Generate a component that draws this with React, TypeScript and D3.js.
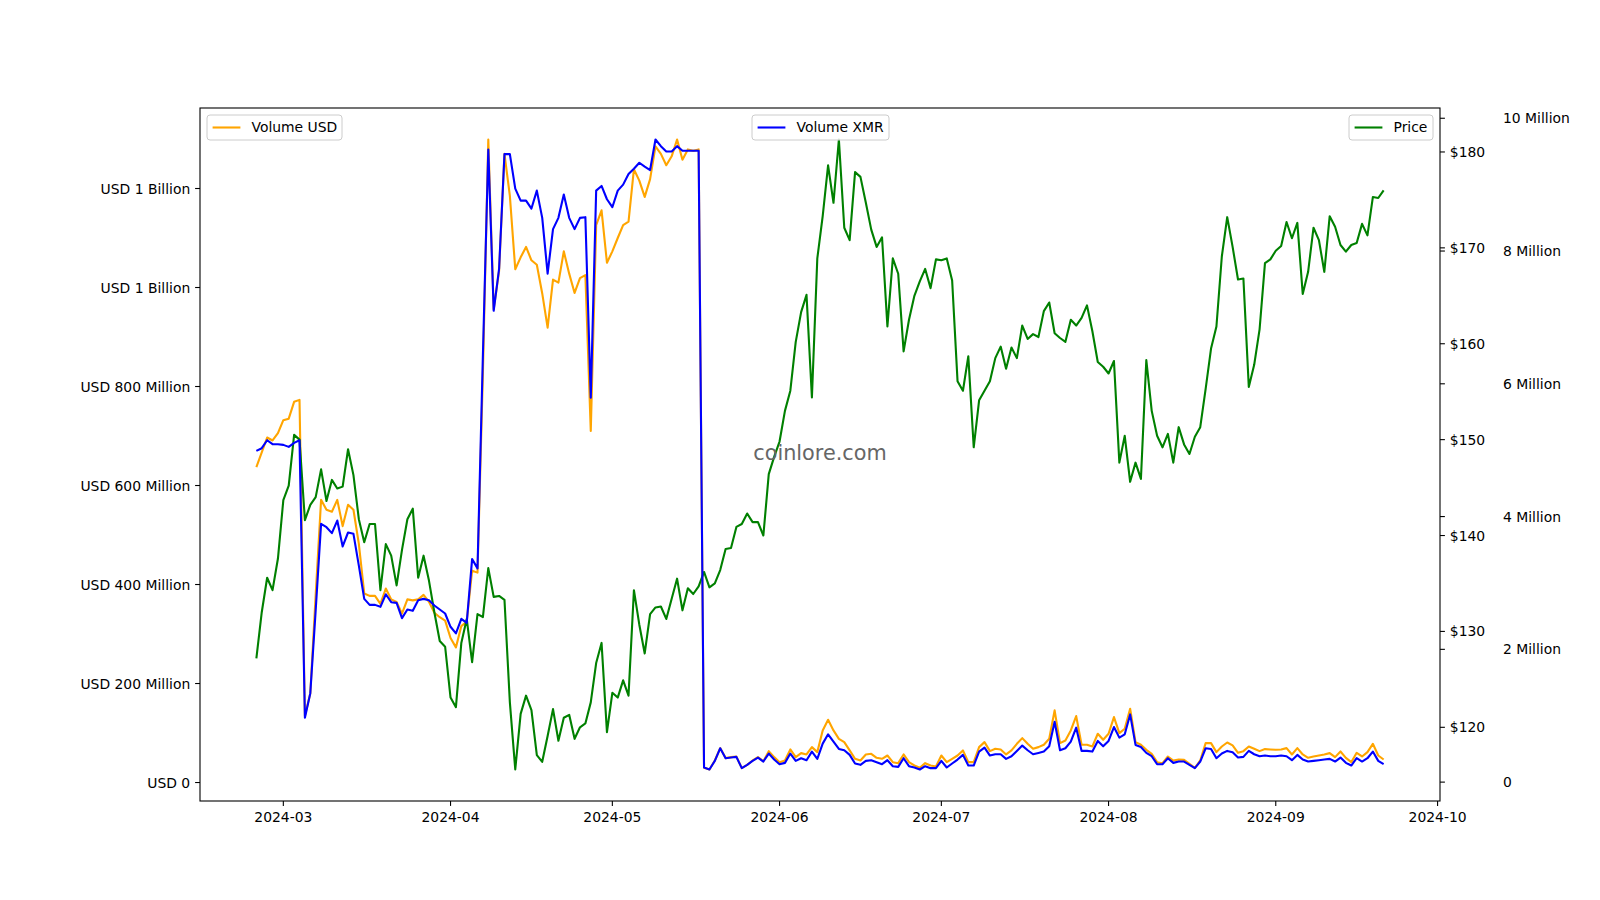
import React from "react";
import * as d3 from "d3";

// daily points, 2024-02-25 .. 2024-09-21
const startDate = new Date(2024, 1, 25);

const priceValues = [
  127.2, 132.0, 135.6, 134.3, 137.6, 143.7, 145.2, 150.5, 150.0, 141.6,
  143.2, 144.0, 146.9, 143.6, 145.8, 144.9, 145.1, 149.0, 146.3, 141.7,
  139.3, 141.2, 141.2, 134.3, 139.1, 137.9, 134.8, 138.5, 141.7, 142.8,
  135.6, 137.9, 135.3, 132.0, 129.0, 128.4, 123.1, 122.1, 128.8, 131.3,
  126.8, 131.8, 131.5, 136.6, 133.6, 133.7, 133.3, 122.6, 115.6, 121.4,
  123.3, 121.8, 117.1, 116.4, 119.1, 121.9, 118.6, 121.0, 121.3, 118.8,
  120.0, 120.4, 122.6, 126.7, 128.8, 119.5, 123.6, 123.1, 124.9, 123.3,
  134.3, 130.7, 127.7, 131.8, 132.5, 132.6, 131.3, 133.4, 135.5, 132.2,
  134.5, 133.9, 134.7, 136.2, 134.6, 135.0, 136.4, 138.6, 138.7, 140.9,
  141.2, 142.3, 141.4, 141.4, 140.0, 146.4, 148.2, 149.8, 153.0, 155.1,
  160.2, 163.3, 165.1, 154.4, 168.9, 173.3, 178.6, 174.7, 181.3, 172.1,
  170.8, 177.9, 177.4, 174.7, 171.9, 170.1, 171.1, 161.8, 168.9, 167.3,
  159.2, 162.5, 165.0, 166.5, 167.8, 165.8, 168.8, 168.7, 168.9, 166.6,
  156.1, 155.1, 158.7, 149.2, 154.1, 155.1, 156.1, 158.5, 159.7, 157.4,
  159.6, 158.5, 161.9, 160.5, 161.0, 160.7, 163.4, 164.3, 161.1, 160.6,
  160.2, 162.5, 161.9, 162.7, 164.0, 161.3, 158.1, 157.6, 156.9, 158.2,
  147.6, 150.4, 145.6, 147.6, 145.9, 158.3, 153.0, 150.4, 149.2, 150.6,
  147.6, 151.3, 149.5, 148.5, 150.3, 151.3, 155.3, 159.5, 161.8, 169.1,
  173.2, 170.1, 166.7, 166.8, 155.5, 157.8, 161.5, 168.4, 168.8, 169.7,
  170.2, 172.7, 171.0, 172.6, 165.2, 167.5, 172.1, 170.8, 167.5, 173.3,
  172.2, 170.3, 169.6, 170.3, 170.5, 172.5, 171.3, 175.3, 175.2, 176.0,
];

// millions of USD
const volumeUsd = [
  637, 667, 697, 691, 706, 732, 735, 769, 773, 135,
  180, 379, 571, 551, 547, 571, 518, 561, 551, 482,
  382, 377, 377, 361, 392, 370, 365, 341, 370, 368,
  370, 379, 365, 343, 334, 327, 292, 273, 316, 325,
  428, 424, 826, 1299, 956, 1033, 1270, 1185, 1037, 1061,
  1082, 1055, 1046, 988, 919, 1016, 1010, 1073, 1028, 989,
  1019, 1025, 710, 1126, 1156, 1050, 1073, 1100, 1126, 1133,
  1239, 1216, 1183, 1219, 1285, 1270, 1247, 1265, 1299, 1258,
  1279, 1276, 1279, 29.7, 26.3, 44.5, 69.5, 49.3, 51.3, 52.6,
  29.0, 35.7, 44.5, 51.3, 43.2, 63.4, 51.3, 41.1, 44.5, 66.8,
  51.3, 59.4, 56.7, 71.5, 61.4, 105.2, 126.8, 105.2, 88.3, 81.6,
  64.8, 47.9, 44.5, 56.7, 58.0, 49.9, 47.9, 54.6, 41.1, 39.1,
  56.7, 41.1, 34.4, 29.7, 39.1, 34.4, 32.4, 54.6, 41.1, 47.9,
  54.6, 64.8, 41.1, 41.1, 71.5, 81.6, 63.4, 68.1, 66.8, 56.7,
  64.8, 78.2, 89.7, 78.2, 68.1, 71.5, 76.2, 88.3, 145.7, 79.6,
  85.0, 105.2, 134.2, 76.2, 76.2, 72.8, 98.5, 86.3, 98.5, 132.2,
  99.8, 108.6, 149.0, 81.6, 76.2, 66.1, 58.0, 41.1, 39.1, 52.6,
  44.5, 46.5, 45.8, 37.8, 29.7, 44.5, 79.6, 79.6, 61.4, 72.8,
  80.9, 74.9, 60.0, 63.4, 72.8, 68.1, 63.4, 67.5, 66.8, 66.1,
  66.8, 69.5, 56.7, 69.5, 56.7, 49.9, 52.6, 54.6, 56.7, 59.4,
  51.3, 62.7, 49.9, 41.1, 60.0, 52.6, 61.4, 78.2, 54.6, 46.5,
];

// millions of XMR
const volumeXmr = [
  4.99, 5.03, 5.15, 5.09, 5.09, 5.08, 5.05, 5.11, 5.15, 0.97,
  1.34, 2.59, 3.89, 3.84, 3.75, 3.94, 3.55, 3.76, 3.74, 3.26,
  2.76, 2.67, 2.67, 2.64, 2.83, 2.71, 2.70, 2.47, 2.60, 2.58,
  2.74, 2.76, 2.74, 2.66, 2.60, 2.54, 2.34, 2.24, 2.46, 2.40,
  3.36, 3.22, 6.43, 9.53, 7.10, 7.73, 9.46, 9.46, 8.94, 8.76,
  8.76, 8.64, 8.91, 8.50, 7.66, 8.33, 8.50, 8.85, 8.50, 8.33,
  8.50, 8.51, 5.79, 8.91, 8.98, 8.78, 8.66, 8.91, 9.00, 9.16,
  9.24, 9.33, 9.27, 9.22, 9.68, 9.58, 9.50, 9.50, 9.58, 9.51,
  9.51, 9.51, 9.51, 0.22, 0.19, 0.32, 0.51, 0.36, 0.37, 0.38,
  0.21, 0.26, 0.32, 0.37, 0.31, 0.43, 0.34, 0.27, 0.29, 0.43,
  0.32, 0.36, 0.33, 0.46, 0.35, 0.58, 0.72, 0.61, 0.50, 0.48,
  0.41, 0.28, 0.26, 0.32, 0.33, 0.30, 0.27, 0.33, 0.24, 0.23,
  0.36, 0.24, 0.22, 0.19, 0.24, 0.21, 0.21, 0.32, 0.22, 0.28,
  0.34, 0.41, 0.25, 0.25, 0.46, 0.52, 0.40, 0.42, 0.42, 0.35,
  0.39, 0.47, 0.55, 0.48, 0.42, 0.44, 0.46, 0.54, 0.91, 0.48,
  0.51, 0.61, 0.82, 0.47, 0.47, 0.46, 0.62, 0.54, 0.62, 0.83,
  0.67, 0.72, 1.02, 0.56, 0.53, 0.44, 0.39, 0.27, 0.27, 0.36,
  0.29, 0.31, 0.31, 0.26, 0.21, 0.31, 0.51, 0.50, 0.36, 0.43,
  0.47, 0.45, 0.37, 0.38, 0.47, 0.42, 0.39, 0.40, 0.39, 0.39,
  0.40, 0.39, 0.33, 0.41, 0.34, 0.31, 0.32, 0.33, 0.34, 0.35,
  0.31, 0.37, 0.29, 0.25, 0.36, 0.31, 0.36, 0.46, 0.32, 0.27,
];

const dates = priceValues.map((_, i) => d3.timeDay.offset(startDate, i));

const usdTicks = [0, 200, 400, 600, 800, 1000, 1200];
const usdTickLabels = [
  "USD 0", "USD 200 Million", "USD 400 Million", "USD 600 Million",
  "USD 800 Million", "USD 1 Billion", "USD 1 Billion",
];
const priceTicks = [120, 130, 140, 150, 160, 170, 180];
const xmrTicks = [0, 2, 4, 6, 8, 10];
const xmrTickLabels = ["0", "2 Million", "4 Million", "6 Million", "8 Million", "10 Million"];
const monthTicks = [2, 3, 4, 5, 6, 7, 8, 9].map((m) => new Date(2024, m, 1));

const W = 1600;
const H = 900;
const left = 200, right = 1440, top = 108, bottom = 801;
const font = "DejaVu Sans, sans-serif";
const fs = 13.9;
const tickLen = 4.9;

// matplotlib style 5% margins
const padded = (vals: number[]): [number, number] => {
  const [a, b] = d3.extent(vals) as [number, number];
  const m = (b - a) * 0.05;
  return [a - m, b + m];
};

const Legend = ({ x, label, color, width }) => (
  <g>
    <rect x={x} y={115} width={width} height={25} rx={3} fill="white" fillOpacity={0.8} stroke="#cccccc" strokeWidth={1} />
    <line x1={x + 5.6} x2={x + 33.4} y1={127.5} y2={127.5} stroke={color} strokeWidth={2.1} />
    <text x={x + 44.5} y={132} fontSize={fs} fontFamily={font} fill="black">{label}</text>
  </g>
);

export default function App() {
  const times = dates.map((d) => +d);
  const xScale = d3.scaleTime().domain(padded(times).map((t) => new Date(t))).range([left, right]);
  const yUsd = d3.scaleLinear().domain(padded(volumeUsd)).range([bottom, top]);
  const yPrice = d3.scaleLinear().domain(padded(priceValues)).range([bottom, top]);
  const yXmr = d3.scaleLinear().domain(padded(volumeXmr)).range([bottom, top]);

  const mk = (scale) =>
    d3.line<number>().x((_, i) => xScale(dates[i])).y((d) => scale(d));

  return (
    <svg width={W} height={H} style={{ position: "absolute", left: 0, top: 0, background: "white" }}>
      <rect width={W} height={H} fill="white" />

      <path d={mk(yUsd)(volumeUsd) ?? ""} fill="none" stroke="orange" strokeWidth={2.1} strokeLinejoin="round" />
      <path d={mk(yPrice)(priceValues) ?? ""} fill="none" stroke="green" strokeWidth={2.1} strokeLinejoin="round" />
      <path d={mk(yXmr)(volumeXmr) ?? ""} fill="none" stroke="blue" strokeWidth={2.1} strokeLinejoin="round" />

      <text x={(left + right) / 2} y={460} textAnchor="middle" fontSize={20.8} fontFamily={font} fill="#666666">coinlore.com</text>

      {/* spines */}
      <rect x={left} y={top} width={right - left} height={bottom - top} fill="none" stroke="black" strokeWidth={1.1} />

      {/* left axis */}
      {usdTicks.map((t, i) => (
        <g key={"u" + t}>
          <line x1={left - tickLen} x2={left} y1={yUsd(t)} y2={yUsd(t)} stroke="black" strokeWidth={1.1} />
          <text x={left - tickLen - 4.9} y={yUsd(t)} dy="0.365em" textAnchor="end" fontSize={fs} fontFamily={font}>{usdTickLabels[i]}</text>
        </g>
      ))}

      {/* price axis */}
      {priceTicks.map((t) => (
        <g key={"p" + t}>
          <line x1={right} x2={right + tickLen} y1={yPrice(t)} y2={yPrice(t)} stroke="black" strokeWidth={1.1} />
          <text x={right + tickLen + 4.9} y={yPrice(t)} dy="0.365em" fontSize={fs} fontFamily={font}>{"$" + t}</text>
        </g>
      ))}

      {/* xmr axis */}
      {xmrTicks.map((t, i) => (
        <g key={"x" + t}>
          <line x1={right} x2={right + tickLen} y1={yXmr(t)} y2={yXmr(t)} stroke="black" strokeWidth={1.1} />
          <text x={1503} y={yXmr(t)} dy="0.365em" fontSize={fs} fontFamily={font}>{xmrTickLabels[i]}</text>
        </g>
      ))}

      {/* x axis */}
      {monthTicks.map((d) => (
        <g key={+d}>
          <line x1={xScale(d)} x2={xScale(d)} y1={bottom} y2={bottom + tickLen} stroke="black" strokeWidth={1.1} />
          <text x={xScale(d)} y={822} textAnchor="middle" fontSize={fs} fontFamily={font}>{d3.timeFormat("%Y-%m")(d)}</text>
        </g>
      ))}

      <Legend x={207} label="Volume USD" color="orange" width={135} />
      <Legend x={752} label="Volume XMR" color="blue" width={137} />
      <Legend x={1349} label="Price" color="green" width={84} />
    </svg>
  );
}
